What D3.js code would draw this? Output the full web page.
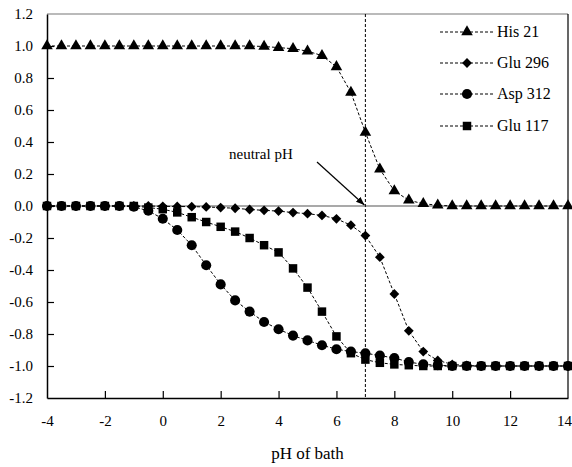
<!DOCTYPE html>
<html>
<head>
<meta charset="utf-8">
<script src="https://cdn.jsdelivr.net/npm/d3@7"></script>
<style>
  body { margin: 0; background: #fff; }
</style>
</head>
<body>
<svg id="chart" width="572" height="467"></svg>
<script>
const pH = [-4, -3.5, -3, -2.5, -2, -1.5, -1, -0.5, 0, 0.5, 1, 1.5, 2, 2.5, 3, 3.5, 4, 4.5, 5,
  5.5, 6, 6.5, 7, 7.5, 8, 8.5, 9, 9.5, 10, 10.5, 11, 11.5, 12, 12.5, 13, 13.5, 14];

const his21 = [1, 1, 1, 1, 1, 1, 1, 1, 1, 1, 1, 1, 1, 1, 1, 0.997, 0.99, 0.983, 0.968,
  0.94, 0.87, 0.71, 0.46, 0.23, 0.094, 0.036, 0.014, 0.005, 0, 0, 0, 0, 0, 0, 0, 0, 0];

const glu296 = [0, 0, 0, 0, 0, 0, 0, 0, -0.002, -0.003, -0.004, -0.006, -0.01, -0.014, -0.022,
  -0.027, -0.032, -0.041, -0.048, -0.059, -0.08, -0.12, -0.185, -0.32, -0.55, -0.78, -0.91,
  -0.965, -0.99, -0.997, -1, -1, -1, -1, -1, -1, -1];

const asp312 = [0, 0, 0, 0, 0, 0, -0.005, -0.03, -0.08, -0.15, -0.245, -0.37, -0.49, -0.59, -0.66,
  -0.725, -0.77, -0.81, -0.84, -0.87, -0.895, -0.91, -0.92, -0.935, -0.95, -0.975, -0.99,
  -0.995, -1, -1, -1, -1, -1, -1, -1, -1, -1];

const glu117 = [0, 0, 0, 0, 0, 0, 0, -0.01, -0.02, -0.04, -0.07, -0.1, -0.13, -0.16, -0.2,
  -0.245, -0.29, -0.39, -0.51, -0.66, -0.815, -0.92, -0.96, -0.98, -0.99, -0.995, -1, -1,
  -1, -1, -1, -1, -1, -1, -1, -1, -1];

const seriesNames = ['His 21', 'Glu 296', 'Asp 312', 'Glu 117'];
const xTicks = [-4, -2, 0, 2, 4, 6, 8, 10, 12, 14];
const yTicks = [-1.2, -1.0, -0.8, -0.6, -0.4, -0.2, 0.0, 0.2, 0.4, 0.6, 0.8, 1.0, 1.2];
const neutral = 7;

const series = [
  { name: seriesNames[0], values: his21, symbol: d3.symbolTriangle, size: 58, rot: 0 },
  { name: seriesNames[1], values: glu296, symbol: d3.symbolSquare, size: 48, rot: 45 },
  { name: seriesNames[3], values: glu117, symbol: d3.symbolSquare, size: 72, rot: 0 },
  { name: seriesNames[2], values: asp312, symbol: d3.symbolCircle, size: 80, rot: 0 },
];

const svg = d3.select('#chart');
const margin = { left: 47, right: 4, top: 14, bottom: 69 };
const width = 572, height = 467;
const serif = '"Liberation Serif", "Times New Roman", Times, serif';

const x = d3.scaleLinear().domain([-4, 14]).range([margin.left, width - margin.right]);
const y = d3.scaleLinear().domain([-1.2, 1.2]).range([height - margin.bottom, margin.top]);

// hyphen instead of unicode minus, like the original
const fmtX = (d) => d3.format('d')(d).replace('\u2212', '-');
const fmtY = (d) => d3.format('.1f')(d).replace('\u2212', '-');

// frame
svg.append('line')
  .attr('x1', x(-4)).attr('x2', x(14)).attr('y1', y(1.2)).attr('y2', y(1.2))
  .attr('stroke', '#777').attr('stroke-width', 1.2);
svg.append('line')
  .attr('x1', x(14)).attr('x2', x(14)).attr('y1', y(1.2)).attr('y2', y(-1.2))
  .attr('stroke', '#000').attr('stroke-width', 1.2);

// zero line
svg.append('line')
  .attr('x1', x(-4)).attr('x2', x(14)).attr('y1', y(0)).attr('y2', y(0))
  .attr('stroke', '#555').attr('stroke-width', 1.2);

// neutral pH line
svg.append('line')
  .attr('x1', x(neutral)).attr('x2', x(neutral)).attr('y1', y(1.2)).attr('y2', y(-1.2))
  .attr('stroke', '#000').attr('stroke-width', 1).attr('stroke-dasharray', '3,2');

// axes
const xAxis = d3.axisBottom(x).tickValues(xTicks).tickSizeInner(-7).tickSizeOuter(0).tickPadding(13)
  .tickFormat(fmtX);
const yAxis = d3.axisLeft(y).tickValues(yTicks).tickSizeInner(-7).tickSizeOuter(0).tickPadding(13)
  .tickFormat(fmtY);

const gx = svg.append('g').attr('transform', `translate(0,${y(-1.2)})`).call(xAxis);
const gy = svg.append('g').attr('transform', `translate(${x(-4)},0)`).call(yAxis);
[gx, gy].forEach((g) => {
  g.select('.domain').attr('stroke', '#000').attr('stroke-width', 1.5);
  g.selectAll('.tick line').attr('stroke', '#000').attr('stroke-width', 1.2);
  g.selectAll('.tick text')
    .style('font-family', serif).style('font-size', '15px')
    .attr('fill', '#000');
});
gy.selectAll('.tick text').attr('x', -14);
gx.selectAll('.tick text').attr('y', 17);
// last label sits against the window edge
gx.selectAll('.tick').filter((d) => d === 14).select('text').attr('x', -4);
gy.selectAll('.tick').filter((d) => d === 1.2 || d === -1.2).select('line').remove();
gx.selectAll('.tick').filter((d) => d === -4 || d === 14).select('line').remove();

svg.append('text')
  .attr('x', (x(-4) + x(14)) / 2).attr('y', 459)
  .attr('text-anchor', 'middle')
  .style('font-family', serif).style('font-size', '17px')
  .text('pH of bath');

// series
const line = d3.line().x((d) => x(d[0])).y((d) => y(d[1]));

series.forEach((s) => {
  const pts = pH.map((p, i) => [p, s.values[i]]);
  svg.append('path')
    .attr('d', line(pts))
    .attr('fill', 'none').attr('stroke', '#000')
    .attr('stroke-width', 1).attr('stroke-dasharray', '3,2');
  svg.append('g').selectAll('path')
    .data(pts)
    .enter()
    .append('path')
    .attr('d', d3.symbol().type(s.symbol).size(s.size))
    .attr('transform', (d) => `translate(${x(d[0])},${y(d[1])})rotate(${s.rot})`)
    .attr('fill', '#000');
});

// annotation
svg.append('defs').append('marker')
  .attr('id', 'arrow').attr('viewBox', '0 0 10 10')
  .attr('refX', 10).attr('refY', 5)
  .attr('markerWidth', 7).attr('markerHeight', 7)
  .attr('orient', 'auto')
  .append('path').attr('d', 'M0,1L10,5L0,9z').attr('fill', '#000');

svg.append('text')
  .attr('x', 229).attr('y', 159)
  .style('font-family', serif).style('font-size', '15px')
  .text('neutral pH');
svg.append('line')
  .attr('x1', 317).attr('y1', 162).attr('x2', x(neutral) - 1).attr('y2', y(0) - 1)
  .attr('stroke', '#000').attr('stroke-width', 1.2)
  .attr('marker-end', 'url(#arrow)');

// legend
const legendOrder = [series[0], series[1], series[3], series[2]];
const legendY = [32, 63, 94, 126];
const leg = svg.append('g');
legendOrder.forEach((s, i) => {
  const ly = legendY[i];
  leg.append('line')
    .attr('x1', 440).attr('x2', 495).attr('y1', ly).attr('y2', ly)
    .attr('stroke', '#000').attr('stroke-width', 1).attr('stroke-dasharray', '3,2');
  leg.append('path')
    .attr('d', d3.symbol().type(s.symbol).size(s.size))
    .attr('transform', `translate(467,${ly})rotate(${s.rot})`)
    .attr('fill', '#000');
  leg.append('text')
    .attr('x', 497).attr('y', ly + 5)
    .style('font-family', serif).style('font-size', '16px')
    .text(s.name);
});
</script>
</body>
</html>
